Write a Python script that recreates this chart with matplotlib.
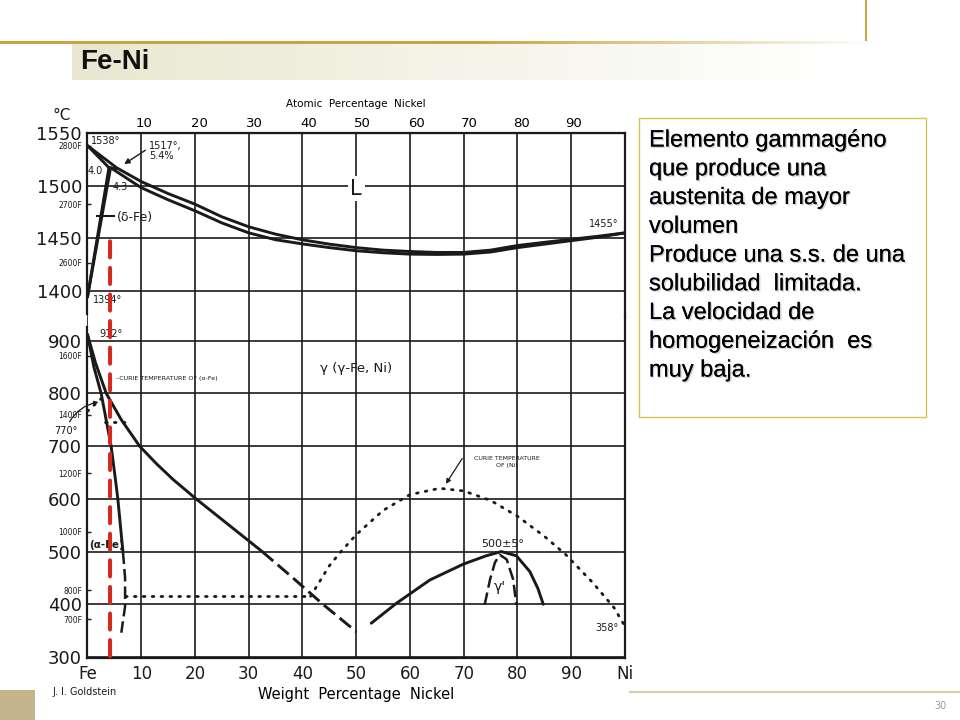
import numpy as np
import matplotlib
matplotlib.use("Agg")
import matplotlib.pyplot as plt
import matplotlib.patheffects as pe
from matplotlib.patches import Rectangle, ConnectionPatch
from matplotlib.lines import Line2D

# ---- data (x = wt% Ni, y = deg C) ----
# upper panel: liquid region
liq_x = [0, 5.4, 10, 15, 20, 25, 30, 35, 40, 45, 50, 55, 60, 65, 70, 75, 80, 85, 90, 95, 100]
liq_t = [1538, 1517, 1503.8, 1492.4, 1482.3, 1470.3, 1460.8, 1453.8, 1448.4, 1444.3, 1441,
         1438.6, 1437.3, 1436.4, 1436.4, 1438.6, 1443, 1446, 1448.9, 1451.8, 1455]
sol_x = [4.3, 10, 15, 20, 25, 30, 35, 40, 45, 50, 55, 60, 65, 70, 75, 80, 85, 90, 95, 100]
sol_t = [1517, 1498, 1486.5, 1476, 1464.5, 1455, 1448.5, 1444.5, 1441, 1438, 1436.1,
         1434.8, 1434.5, 1434.8, 1436.8, 1441, 1444.3, 1447.6, 1450.9, 1455]
dsol_x = [0, 4.0]
dsol_t = [1538, 1517]
perit_x = [4.0, 5.4]
perit_t = [1517, 1517]
dsolv_x = [4.0, 0]
dsolv_t = [1517, 1394]
gsolv_x = [4.3, 0]
gsolv_t = [1517, 1394]

# lower panel: solid state
gam_x = [0, 1.5, 3.5, 6.3, 9.7, 12.8, 15.9, 20.2, 32.5]
gam_t = [912, 858, 800, 750, 700, 667, 637, 600, 500]
gam_dash_x = [32.5, 38, 43.8, 50]
gam_dash_t = [500, 452, 400, 348]
alp_x = [0, 1.2, 2.55, 4.4, 5.2, 5.65, 6.6]
alp_t = [912, 850, 800, 700, 637, 600, 500]
alp_dash_x = [6.6, 7.0, 7.0, 6.3]
alp_dash_t = [500, 450, 396, 346]
curie_fe1_x = [0, 2.55]
curie_fe1_t = [766, 790]
curie_fe2_x = [3.2, 7.0]
curie_fe2_t = [745, 745]
low_dot_x = [7.0, 41.5]
low_dot_t = [415, 415]
curie_ni_x = [41.5, 45, 47, 50, 55, 60, 65.5, 70, 75, 80, 85, 89, 94, 98, 100]
curie_ni_t = [415, 473, 498, 532, 578, 608, 620, 615, 597, 567, 529, 494, 441, 393, 358]
order_x = [52.8, 57.5, 63.7, 69.9, 74.2, 77, 79.8, 82.3, 83.8, 84.8]
order_t = [364, 402, 446, 476, 492, 500, 492, 462, 430, 400]
gp_x = [73.9, 74.9, 75.8, 76.7, 78.0, 79.2, 79.8]
gp_t = [399, 447, 479, 494, 485, 447, 399]

# axes ticks / labels
wt_ticks = list(range(0, 101, 10))
wt_labels = ["Fe", "10", "20", "30", "40", "50", "60", "70", "80", "90", "Ni"]
at_ticks = list(range(10, 100, 10))
hi_yticks = [1400, 1450, 1500, 1550]
lo_yticks = [300, 400, 500, 600, 700, 800, 900]
hi_f = [2800, 2700, 2600]
lo_f = [1600, 1400, 1200, 1000, 800, 700]
red_x = 4.2

box_lines = ["Elemento gammagéno", "que produce una", "austenita de mayor", "volumen",
             "Produce una s.s. de una", "solubilidad  limitada.", "La velocidad de",
             "homogeneización  es", "muy baja."]

INK = "#1a1a1a"


def f_to_c(f):
    return (np.asarray(f, float) - 32) / 1.8


def wt_to_at(w):
    w = np.asarray(w, float)
    return 100 * (w / 58.69) / (w / 58.69 + (100 - w) / 55.85)


def at_to_wt(a):
    a = np.asarray(a, float)
    return 100 * a * 58.69 / (a * 58.69 + (100 - a) * 55.85)


def style(ax, ylim, yticks, bounds, fvals):
    ax.set_xlim(0, 100)
    ax.set_ylim(*ylim)
    ax.set_xticks(wt_ticks)
    ax.set_yticks(yticks)
    ax.set_axisbelow(True)
    ax.grid(True, color=INK, lw=1.2)
    ax.tick_params(length=0, labelsize=13, pad=4, colors=INK)
    fc = f_to_c(fvals)
    ax.set_yticks(fc, minor=True)
    ax.set_yticklabels([f"{v}F" for v in fvals], minor=True)
    ax.tick_params(which="minor", direction="in", length=3, width=1,
                   labelsize=5.5, pad=4, colors=INK)
    for s in ax.spines.values():
        s.set_color(INK)
        s.set_linewidth(1.6)
    ax.spines["left"].set_bounds(*bounds)


fig = plt.figure(figsize=(9.6, 7.2), dpi=100)

ax_hi = fig.add_axes([0.0911, 0.5597, 0.5599, 0.2556])
ax_lo = fig.add_axes([0.0911, 0.0861, 0.5599, 0.4736])
style(ax_hi, (1375, 1550), hi_yticks, (1378, 1550), hi_f)
style(ax_lo, (298, 945), lo_yticks, (298, 926), lo_f)

ax_hi.spines["bottom"].set_visible(False)
ax_hi.tick_params(labelbottom=False)
ax_lo.spines["top"].set_visible(False)
ax_lo.set_xticklabels(wt_labels, fontsize=12)
ax_lo.tick_params(axis="x", pad=5)
ax_lo.set_xlabel("Weight  Percentage  Nickel", fontsize=10.5, labelpad=3)

sec = ax_hi.secondary_xaxis("top", functions=(wt_to_at, at_to_wt))
sec.set_xticks(at_ticks)
sec.tick_params(length=0, labelsize=9.5, pad=2)
sec.set_xlabel("Atomic  Percentage  Nickel", fontsize=7.5, labelpad=7)

# --- upper panel curves ---
kw = dict(color=INK, lw=2.1, solid_capstyle="round", solid_joinstyle="round")
ax_hi.plot(liq_x, liq_t, **kw)
ax_hi.plot(sol_x, sol_t, **kw)
ax_hi.plot(dsol_x, dsol_t, **kw)
ax_hi.plot(perit_x, perit_t, **kw)
ax_hi.plot(dsolv_x, dsolv_t, **kw)
ax_hi.plot(gsolv_x, gsolv_t, **kw)
ax_hi.plot([1.7, 5.0], [1471, 1471], color=INK, lw=1.5)

tk = dict(color=INK, fontsize=7)
ax_hi.text(0.7, 1542, "1538°", va="center", **tk)
ax_hi.text(11.5, 1533, "1517°,\n5.4%", va="center", linespacing=0.95, **tk)
ax_hi.annotate("", xy=(6.4, 1519), xytext=(11.2, 1535),
               arrowprops=dict(arrowstyle="-|>", color=INK, lw=1, mutation_scale=8))
ax_hi.text(2.9, 1514, "4.0", ha="right", va="center", **tk)
ax_hi.text(4.7, 1499, "4.3", va="center", **tk)
ax_hi.text(1.0, 1391, "1394°", va="center", **tk)
ax_hi.text(5.5, 1470, "(δ-Fe)", va="center", color=INK, fontsize=9)
ax_hi.text(50, 1497, "L", ha="center", va="center", color=INK, fontsize=15,
           bbox=dict(fc="white", ec="none", pad=2))
ax_hi.text(96, 1463, "1455°", ha="center", va="center", **tk)

# --- lower panel curves ---
ax_lo.plot(gam_x, gam_t, **kw)
ax_lo.plot(gam_dash_x, gam_dash_t, color=INK, lw=2.1, linestyle=(0, (5, 2)))
ax_lo.plot(alp_x, alp_t, **kw)
ax_lo.plot(alp_dash_x, alp_dash_t, color=INK, lw=1.8, linestyle=(0, (5, 2)))
dot = dict(color=INK, lw=2, linestyle=(0, (0.6, 2.6)), dash_capstyle="round")
ax_lo.plot(curie_fe1_x, curie_fe1_t, **dot)
ax_lo.plot(curie_fe2_x, curie_fe2_t, **dot)
ax_lo.plot(low_dot_x, low_dot_t, **dot)
ax_lo.plot(curie_ni_x, curie_ni_t, **dot)
ax_lo.plot(order_x, order_t, **kw)
ax_lo.plot(gp_x, gp_t, color=INK, lw=1.8, linestyle=(0, (5, 2)))

ax_lo.text(2.2, 913, "912°", va="center", **tk)
ax_lo.text(5.4, 828, "–CURIE TEMPERATURE OF (α-Fe)", va="center", color=INK, fontsize=4.6)
ax_lo.text(50, 847, "γ (γ-Fe, Ni)", ha="center", va="center", color=INK, fontsize=9.5)
ax_lo.text(0.4, 513, "(α-Fe)", va="center", color=INK, fontsize=7.5, fontweight="bold")
ax_lo.annotate("770°", xy=(2.3, 784), xytext=(-1.9, 729), ha="right", va="center",
               color=INK, fontsize=7, annotation_clip=False,
               arrowprops=dict(arrowstyle="-|>", color=INK, lw=0.9, mutation_scale=6,
                               connectionstyle="arc3,rad=-0.3", shrinkA=1, shrinkB=1))
ax_lo.text(78, 670, "CURIE TEMPERATURE\nOF (Ni)", ha="center", va="center",
           color=INK, fontsize=4.5, linespacing=1.3)
ax_lo.annotate("", xy=(66.4, 624), xytext=(70.0, 681),
               arrowprops=dict(arrowstyle="-|>", color=INK, lw=0.9, mutation_scale=7))
ax_lo.text(77.3, 514, "500±5°", ha="center", va="center", color=INK, fontsize=8)
ax_lo.text(76.8, 433, "γ'", ha="center", va="center", color=INK, fontsize=10)
ax_lo.text(96.6, 355, "358°", ha="center", va="center", **tk)

# red marker at ~4 wt% Ni across both panels
con = ConnectionPatch(xyA=(red_x, 1447), coordsA=ax_hi.transData,
                      xyB=(red_x, 285), coordsB=ax_lo.transData,
                      color="#d42a20", lw=2.9, linestyle=(0, (4.0, 2.6)), zorder=10)
fig.add_artist(con)

fig.text(62 / 960, 1 - 115 / 720, "°C", ha="center", va="center", fontsize=11, color=INK)
fig.text(52 / 960, 1 - 692 / 720, "J. I. Goldstein", va="center", fontsize=7, color=INK)

# --- slide decoration ---
g = np.linspace(0, 1, 256)
ax_gl = fig.add_axes([0, 1 - 44 / 720, 880 / 960, 3 / 720])
gold = np.zeros((1, 256, 4))
gold[..., 0], gold[..., 1], gold[..., 2] = 0.79, 0.65, 0.26
gold[..., 3] = np.clip((1 - g) / 0.45, 0, 1)
ax_gl.imshow(gold, aspect="auto")
ax_gl.axis("off")

fig.add_artist(Line2D([866 / 960] * 2, [1, 1 - 40 / 720], transform=fig.transFigure,
                      color="#c8a548", lw=1.5))

ax_tb = fig.add_axes([72 / 960, 1 - 80 / 720, 760 / 960, 36 / 720])
bar = np.ones((1, 256, 3))
bar[..., 0] = 0.91 + 0.09 * g
bar[..., 1] = 0.91 + 0.09 * g
bar[..., 2] = 0.82 + 0.18 * g
ax_tb.imshow(bar, aspect="auto")
ax_tb.axis("off")
fig.text(80 / 960, 1 - 62 / 720, "Fe-Ni", va="center", fontsize=20,
         family="Liberation Sans", fontweight="bold", color="#111111")

fig.add_artist(Rectangle((0, 0), 35 / 960, 30 / 720, transform=fig.transFigure,
                         color="#c4b48c", lw=0))
fig.add_artist(Line2D([630 / 960, 1], [1 - 692 / 720] * 2, transform=fig.transFigure,
                      color="#d8cfa8", lw=1.5))
fig.text(940 / 960, 1 - 706 / 720, "30", ha="center", va="center", fontsize=7, color="#999999")

# --- text box ---
fig.add_artist(Rectangle((639 / 960, 1 - 417 / 720), 287 / 960, 299 / 720,
                         transform=fig.transFigure, fill=False, ec="#d2c350", lw=1))
shadow = [pe.withSimplePatchShadow(offset=(1, -1), shadow_rgbFace="#8a8a8a", alpha=0.4),
          pe.Normal()]
for i, line in enumerate(box_lines):
    fig.text(649 / 960, 1 - (146.5 + 28.75 * i) / 720, line, va="baseline",
             fontsize=17, family="Liberation Sans", color="black", path_effects=shadow)

fig.savefig("out.png", dpi=100)
